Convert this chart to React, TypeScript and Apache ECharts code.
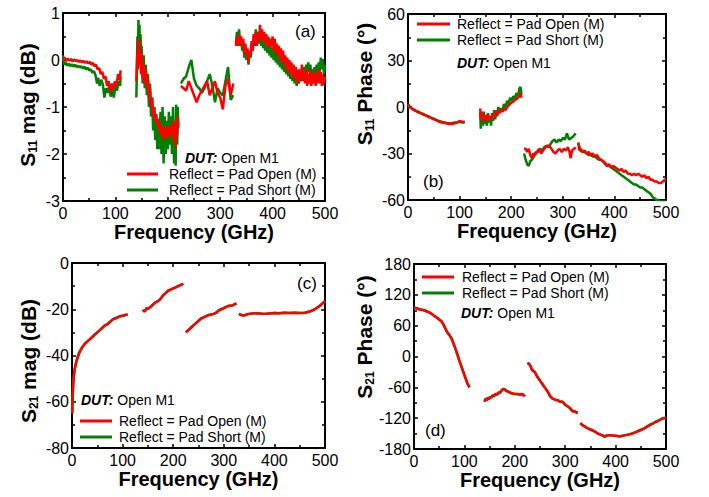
import React, { useEffect, useRef } from "react";
import * as echarts from "echarts";

type Pt = [number, number];

const OPEN_NAME = "Reflect = Pad Open (M)";
const SHORT_NAME = "Reflect = Pad Short (M)";
const RED = "#ff0000";
const GREEN = "#008000";
const FONT = "'Liberation Sans', Arial, sans-serif";

const xTicks = { min: 0, max: 500, interval: 100 };

// ---------- (a) S11 magnitude (dB) ----------
const s11MagOpen: Pt[][] = [
  [[0,0.02],[3,0.05],[6,-0.02],[9,0.03],[12,-0.01],[15,0.02],[18,-0.03],[21,0.01],[24,-0.02],[27,0.0],[30,-0.04],[33,-0.01],[36,-0.05],[39,-0.02],[42,-0.06],[45,-0.03],[48,-0.07],[51,-0.04],[54,-0.1],[57,-0.06],[60,-0.13],[63,-0.1],[66,-0.2],[69,-0.17],[72,-0.3],[75,-0.25],[78,-0.4],[81,-0.35],[84,-0.55],[87,-0.45],[90,-0.68],[93,-0.5],[96,-0.62],[99,-0.45],[102,-0.55],[105,-0.3],[108,-0.42],[110,-0.22]],
  [[140,-0.45],[141,-0.1],[142,0.2],[143,-0.2],[144,0.45],[145,0.1],[146,0.4],[147,-0.1],[148,0.2],[149,-0.3],[150,0.1],[152,-0.4],[154,-0.1],[156,-0.5],[158,-0.2],[160,-0.6],[162,-0.4],[164,-0.8],[166,-0.6],[168,-1.0],[170,-0.8],[172,-1.2],[174,-1.0],[176,-1.3],[178,-1.15],[180,-1.4],[182,-1.25],[184,-1.55],[186,-1.35],[188,-1.6],[190,-1.45],[192,-1.7],[194,-1.4],[196,-1.65],[198,-1.45],[200,-1.6],[202,-1.4],[204,-1.65],[206,-1.4],[208,-1.55],[210,-1.3],[212,-1.75],[214,-1.5],[215,-1.85],[216,-1.3],[218,-1.6],[219,-1.2],[220,-1.45]],
  [[225,-0.55],[230,-0.6],[235,-0.65],[240,-0.45],[245,-0.6],[250,-0.75],[255,-0.9],[260,-0.75],[265,-0.65],[270,-0.55],[275,-0.45],[280,-0.75],[285,-0.6],[290,-0.45],[295,-0.7],[300,-0.8],[305,-1.05],[310,-0.55],[315,-0.4],[320,-0.75],[325,-0.5]],
  [[330,0.3],[332,0.5],[334,0.3],[336,0.55],[338,0.35],[340,0.5],[342,0.3],[344,0.45],[346,0.15],[348,0.35],[350,0.1],[352,0.25],[354,-0.05],[356,0.2],[358,0.1],[360,0.4],[362,0.2],[364,0.55],[366,0.35],[368,0.6],[370,0.3],[372,0.55],[374,0.4],[376,0.75],[378,0.45],[380,0.65],[382,0.4],[384,0.6],[386,0.35],[388,0.55],[390,0.3],[392,0.5],[394,0.25],[396,0.45],[398,0.3],[400,0.5],[402,0.2],[404,0.45],[406,0.15],[408,0.35],[410,0.1],[412,0.3],[414,0.0],[416,0.25],[418,-0.05],[420,0.2],[422,-0.1],[424,0.1],[426,-0.2],[428,0.05],[430,-0.25],[432,0.0],[434,-0.3],[436,-0.05],[438,-0.35],[440,-0.1],[442,-0.4],[444,-0.15],[446,-0.45],[448,-0.2],[450,-0.5],[452,-0.2],[454,-0.4],[456,-0.1],[458,-0.45],[460,-0.25],[462,-0.5],[464,-0.2],[466,-0.55],[468,-0.3],[470,-0.5],[472,-0.2],[474,-0.55],[476,-0.3],[478,-0.5],[480,-0.25],[482,-0.55],[484,-0.3],[486,-0.5],[488,-0.2],[490,-0.5],[492,-0.25],[494,-0.55],[496,-0.3],[498,-0.5],[500,-0.35]],
];
const s11MagShort: Pt[][] = [
  [[0,0.1],[2,-0.1],[5,-0.05],[8,-0.12],[11,-0.08],[14,-0.13],[17,-0.09],[20,-0.14],[23,-0.1],[26,-0.15],[29,-0.12],[32,-0.16],[35,-0.13],[38,-0.18],[41,-0.14],[44,-0.2],[47,-0.16],[50,-0.22],[53,-0.2],[56,-0.27],[59,-0.24],[62,-0.32],[65,-0.5],[67,-0.38],[70,-0.55],[73,-0.42],[76,-0.52],[79,-0.8],[82,-0.6],[85,-0.7],[88,-0.55],[91,-0.78],[94,-0.6],[97,-0.8],[100,-0.55],[103,-0.65],[106,-0.45],[109,-0.55],[110,-0.35]],
  [[140,-0.8],[141,-0.2],[142,0.5],[143,0.1],[144,0.85],[145,0.3],[146,0.75],[147,0.0],[148,0.55],[149,-0.2],[150,0.3],[152,-0.5],[154,0.1],[156,-0.6],[158,-0.1],[160,-0.75],[162,-0.3],[164,-1.0],[166,-0.5],[168,-1.2],[170,-0.8],[172,-1.5],[174,-1.0],[176,-1.7],[178,-1.2],[180,-1.9],[182,-1.3],[184,-1.9],[186,-1.1],[188,-2.0],[190,-1.0],[192,-2.2],[194,-1.2],[196,-2.0],[198,-1.3],[200,-1.9],[202,-1.1],[204,-1.8],[206,-1.2],[208,-2.0],[210,-1.0],[212,-2.2],[214,-1.3],[215,-2.25],[216,-0.95],[218,-1.8],[219,-1.0],[220,-1.4]],
  [[225,-0.5],[230,-0.4],[235,-0.35],[240,-0.15],[245,0.0],[250,-0.4],[255,-0.55],[260,-0.6],[265,-0.7],[270,-0.6],[275,-0.45],[280,-0.3],[285,-0.55],[290,-0.9],[295,-0.6],[300,-0.7],[305,-0.75],[310,-0.45],[315,-0.15],[320,-0.85],[325,-0.75]],
  [[330,0.35],[332,0.6],[334,0.4],[336,0.65],[338,0.3],[340,0.45],[342,0.2],[344,0.35],[346,0.05],[348,0.25],[350,0.0],[352,0.2],[354,-0.1],[356,0.15],[358,0.05],[360,0.35],[362,0.2],[364,0.5],[366,0.3],[368,0.65],[370,0.4],[372,0.6],[374,0.35],[376,0.55],[378,0.3],[380,0.5],[382,0.25],[384,0.45],[386,0.2],[388,0.4],[390,0.15],[392,0.35],[394,0.1],[396,0.3],[398,0.05],[400,0.25],[402,0.0],[404,0.2],[406,-0.05],[408,0.15],[410,-0.1],[412,0.1],[414,-0.15],[416,0.05],[418,-0.2],[420,0.0],[422,-0.25],[424,-0.05],[426,-0.3],[428,-0.1],[430,-0.35],[432,-0.15],[434,-0.4],[436,-0.2],[438,-0.45],[440,-0.25],[442,-0.5],[444,-0.3],[446,-0.55],[448,-0.3],[450,-0.5],[452,-0.25],[454,-0.45],[456,-0.2],[458,-0.4],[460,-0.15],[462,-0.35],[464,-0.1],[466,-0.3],[468,-0.05],[470,-0.25],[472,-0.1],[474,-0.35],[476,-0.2],[478,-0.4],[480,-0.15],[482,-0.35],[484,-0.1],[486,-0.3],[488,-0.05],[490,-0.25],[492,0.05],[494,-0.2],[496,0.0],[498,-0.3],[500,-0.1]],
];

// ---------- (b) S11 phase (deg) ----------
const s11PhaseOpen: Pt[][] = [
  [[0,1],[5,-0.5],[10,-1.5],[15,-2.5],[20,-3.5],[25,-4],[30,-5],[35,-5.5],[40,-6.5],[45,-7],[50,-8],[55,-8.5],[60,-9.5],[65,-10],[70,-10],[75,-10.5],[80,-11],[85,-11],[90,-10.5],[95,-10],[100,-9],[105,-9.5],[110,-9.5]],
  [[140,-1],[141,-8],[143,-3],[145,-9],[147,-5],[149,-8],[151,-6],[153,-9],[155,-5],[157,-8],[159,-6],[161,-8],[163,-5],[165,-7],[167,-4],[169,-6],[171,-3],[173,-5],[175,-2],[177,-4],[180,-2],[183,-3],[186,-1],[189,-2],[192,0],[195,1],[198,2],[201,3],[204,3.5],[207,4.5],[210,5],[213,6],[216,7],[218,9],[220,6]],
  [[225,-27],[228,-27],[231,-29],[234,-27],[237,-31],[240,-33],[243,-30],[246,-31],[250,-29],[254,-27],[258,-30],[262,-28],[266,-26],[270,-25],[274,-25],[278,-27],[282,-29],[286,-30],[290,-28],[294,-27],[298,-29],[302,-27],[306,-28],[310,-26],[313,-29],[315,-33],[318,-28],[322,-27],[325,-26]],
  [[330,-23],[332,-28],[335,-27],[338,-29],[342,-28],[346,-30],[350,-29],[354,-31],[358,-30],[362,-32],[366,-31],[370,-33],[374,-34],[378,-35],[382,-36],[386,-38],[390,-37],[394,-39],[398,-38],[402,-39],[406,-40],[410,-41],[414,-40],[418,-42],[422,-41],[426,-43],[430,-43],[434,-44],[438,-43],[442,-44],[446,-43],[450,-44],[454,-45],[458,-44],[462,-46],[466,-45],[470,-47],[474,-47],[478,-48],[482,-48],[486,-49],[490,-49],[494,-48],[498,-47],[500,-47]],
];
const s11PhaseShort: Pt[][] = [
  [[0,2],[5,-0.5],[10,-1.5],[15,-2.5],[20,-3],[25,-4],[30,-4.5],[35,-5.5],[40,-6],[45,-7],[50,-7.5],[55,-8.5],[60,-9],[65,-9.5],[70,-10],[75,-10.5],[80,-10.5],[85,-10.5],[90,-10],[95,-10],[100,-9.5],[105,-10],[110,-10]],
  [[140,-3],[141,-14],[143,-4],[145,-12],[147,-3],[149,-11],[151,-5],[153,-12],[155,-4],[157,-10],[159,-6],[161,-12],[163,-4],[165,-9],[167,-2],[169,-8],[171,-2],[173,-6],[175,0],[177,-3],[180,-1],[183,-3],[186,2],[189,-1],[192,4],[195,2],[198,6],[201,4],[204,7],[207,5],[210,9],[213,7],[216,12],[218,13],[220,8]],
  [[225,-30],[228,-34],[231,-37],[234,-38],[237,-35],[240,-34],[244,-32],[248,-29],[252,-29],[256,-27],[260,-28],[264,-26],[268,-25],[272,-26],[276,-24],[280,-22],[284,-21],[288,-23],[292,-21],[296,-22],[300,-20],[304,-21],[308,-17],[312,-21],[316,-20],[320,-19],[325,-17]],
  [[330,-23],[334,-28],[338,-29],[342,-29],[346,-30],[350,-31],[354,-31],[358,-32],[362,-32],[366,-33],[370,-34],[374,-34],[378,-35],[382,-37],[386,-38],[390,-38],[394,-39],[398,-40],[402,-41],[406,-42],[410,-43],[414,-44],[418,-45],[422,-46],[426,-47],[430,-48],[434,-49],[438,-50],[442,-50],[446,-51],[450,-52],[454,-52],[458,-53],[462,-54],[466,-55],[470,-56],[474,-58],[478,-59],[482,-60],[486,-60.5],[490,-61],[495,-61],[500,-61]],
];

// ---------- (c) S21 magnitude (dB) ----------
const s21MagOpen: Pt[][] = [
  [[0.5,-65],[1,-60],[2,-54],[3,-50],[5,-46.5],[7,-44],[10,-41.5],[15,-38.5],[20,-36.5],[25,-35],[30,-34],[35,-33],[40,-32],[45,-31],[50,-30],[55,-29],[60,-28],[65,-27],[70,-26.5],[75,-25.5],[80,-24.5],[85,-24],[90,-23.5],[95,-23],[100,-22.8],[105,-22.5],[110,-22.3]],
  [[140,-21],[142,-20.5],[144,-21],[146,-20],[148,-19.5],[150,-19.8],[155,-19],[160,-18],[165,-17],[170,-16.5],[175,-15.5],[180,-14],[185,-13],[190,-12],[195,-11.5],[200,-11],[205,-10.5],[210,-10],[215,-9.5],[220,-9]],
  [[225,-30],[230,-29],[235,-28],[240,-27],[245,-26],[250,-25],[255,-24],[260,-23.5],[265,-23],[270,-22.5],[275,-22.3],[280,-22],[285,-21.5],[290,-20.5],[295,-20],[300,-19.5],[305,-19],[310,-18.5],[315,-18.5],[320,-18],[325,-17.5]],
  [[330,-22],[335,-22.5],[340,-22.7],[345,-22.3],[350,-22],[360,-21.7],[370,-21.8],[380,-22],[390,-21.8],[400,-21.6],[410,-21.7],[420,-21.5],[430,-21.6],[440,-21.5],[450,-21.6],[460,-21.5],[470,-21],[480,-20],[490,-18.5],[500,-16.5]],
];
const s21MagShort: Pt[][] = s21MagOpen;

// ---------- (d) S21 phase (deg) ----------
const s21PhaseOpen: Pt[][] = [
  [[0,95],[5,94],[10,92],[15,91],[20,90],[25,88],[30,86],[35,83],[40,79],[45,76],[50,72],[55,68],[58,63],[62,55],[66,47],[70,42],[75,34],[80,21],[85,7],[90,-8],[95,-22],[100,-36],[105,-50],[110,-60]],
  [[140,-88],[142,-82],[144,-86],[146,-80],[148,-84],[150,-79],[153,-80],[156,-76],[159,-77],[162,-73],[165,-74],[168,-70],[171,-70],[174,-66],[177,-63],[180,-64],[183,-67],[186,-68],[190,-70],[195,-72],[200,-73],[205,-73],[210,-74],[215,-73],[218,-76],[220,-74]],
  [[225,-13],[228,-14],[231,-18],[234,-26],[237,-28],[240,-31],[245,-40],[250,-47],[255,-54],[260,-61],[265,-68],[270,-77],[275,-82],[280,-84],[285,-85],[290,-88],[295,-88],[300,-94],[305,-97],[310,-101],[315,-107],[318,-106],[322,-109],[325,-109]],
  [[330,-130],[335,-134],[340,-137],[345,-140],[350,-142],[355,-144],[360,-147],[365,-150],[370,-152],[375,-154],[378,-156],[382,-154],[386,-153],[390,-153],[395,-154],[400,-154],[405,-155],[410,-155],[415,-154],[420,-153],[425,-152],[430,-151],[435,-149],[440,-147],[445,-145],[450,-143],[455,-141],[460,-138],[465,-135],[470,-132],[475,-130],[480,-127],[485,-125],[490,-122],[495,-120],[500,-119]],
];
const s21PhaseShort: Pt[][] = s21PhaseOpen;

// y-axis ranges per panel
const yRanges = [
  { min: -3, max: 1, interval: 1 },
  { min: -60, max: 60, interval: 30 },
  { min: -80, max: 0, interval: 20 },
  { min: -180, max: 180, interval: 60 },
];
const yNames = [
  "{s|S}{sub|11}{s| mag (dB)}",
  "{s|S}{sub|11}{s| Phase (°)}",
  "{s|S}{sub|21}{s| mag (dB)}",
  "{s|S}{sub|21}{s| Phase (°)}",
];
const panelLabels = ["(a)", "(b)", "(c)", "(d)"];

function joinSegments(segs: Pt[][]): any[] {
  const out: any[] = [];
  segs.forEach((s, i) => {
    if (i > 0) out.push([s[0][0] - 1, "-"]);
    s.forEach((p) => out.push(p));
  });
  return out;
}

export default function App() {
  const ref = useRef<HTMLDivElement>(null);
  useEffect(() => {
    if (!ref.current) return;
    const chart = echarts.init(ref.current, null, { renderer: "svg" });

    const grids = [
      { left: 63, top: 13, width: 262, height: 188 },
      { left: 408, top: 14, width: 258, height: 186 },
      { left: 72, top: 263, width: 253, height: 185 },
      { left: 414, top: 264, width: 252, height: 185 },
    ];

    const axisLine = { show: true, onZero: false, lineStyle: { color: "#000", width: 2 } };
    const axisTick = { show: true, inside: true, length: 4, lineStyle: { color: "#000", width: 1.5 } };
    const minorTick = { show: true, splitNumber: 2, length: 3, lineStyle: { color: "#000", width: 1.5 } };

    const xAxis: any[] = [];
    const yAxis: any[] = [];
    grids.forEach((_, g) => {
      xAxis.push({
        gridIndex: g, type: "value", ...xTicks, position: "bottom",
        axisLine, axisTick, minorTick, splitLine: { show: false },
        axisLabel: { fontSize: 16, color: "#000", margin: 4, fontFamily: FONT },
        name: "Frequency (GHz)", nameLocation: "middle", nameGap: 21,
        nameTextStyle: { fontSize: 20, fontWeight: "bold", color: "#000", fontFamily: FONT },
      });
      xAxis.push({
        gridIndex: g, type: "value", ...xTicks, position: "top",
        axisLine, axisTick, minorTick, splitLine: { show: false },
        axisLabel: { show: false },
      });
      yAxis.push({
        gridIndex: g, type: "value", ...yRanges[g], position: "left",
        axisLine, axisTick, minorTick, splitLine: { show: false },
        axisLabel: { fontSize: 16, color: "#000", margin: 3, fontFamily: FONT },
      });
      yAxis.push({
        gridIndex: g, type: "value", ...yRanges[g], position: "right",
        axisLine, axisTick, minorTick, splitLine: { show: false },
        axisLabel: { show: false },
      });
    });

    const panels = [
      [s11MagShort, s11MagOpen],
      [s11PhaseShort, s11PhaseOpen],
      [s21MagShort, s21MagOpen],
      [s21PhaseShort, s21PhaseOpen],
    ];
    const series: any[] = [];
    panels.forEach(([short, open], g) => {
      series.push({
        type: "line", name: SHORT_NAME, xAxisIndex: 2 * g, yAxisIndex: 2 * g,
        data: joinSegments(short), showSymbol: false, symbol: "none",
        lineStyle: { color: GREEN, width: 2.5 }, itemStyle: { color: GREEN },
        connectNulls: false,
      });
      series.push({
        type: "line", name: OPEN_NAME, xAxisIndex: 2 * g, yAxisIndex: 2 * g,
        data: joinSegments(open), showSymbol: false, symbol: "none",
        lineStyle: { color: RED, width: 2.5 }, itemStyle: { color: RED },
        connectNulls: false,
      });
    });

    const legendPos = [
      { left: 127, top: 167, w: 31, pad: 6 },
      { left: 417, top: 17, w: 33, pad: 2 },
      { left: 80, top: 414, w: 32, pad: 2 },
      { left: 422, top: 270, w: 32, pad: 3 },
    ];
    const legend = legendPos.map((p) => ({
      data: [OPEN_NAME, SHORT_NAME], orient: "vertical", left: p.left, top: p.top,
      itemWidth: p.w, itemHeight: 3, itemGap: 2, icon: "rect", padding: 0,
      selectedMode: false,
      textStyle: { fontSize: 14, color: "#000", fontFamily: FONT, padding: [0, 0, 0, p.pad] },
    }));

    const dutPos = [[185, 158], [457, 63], [81, 400], [461, 313]];
    const labelPos = [[295, 31], [423, 181], [297, 283], [425, 430]];
    const yNamePos = [[27, 105], [364, 84], [28, 361], [364, 337]];
    const graphic: any[] = [];
    yNamePos.forEach(([x, y], i) => {
      graphic.push({
        type: "text", x, y, rotation: Math.PI / 2,
        style: {
          text: yNames[i], fill: "#000", fontFamily: FONT,
          align: "center", verticalAlign: "middle",
          rich: {
            s: { fontSize: 21, fontWeight: "bold", fill: "#000", fontFamily: FONT, lineHeight: 24 },
            sub: { fontSize: 12, fontWeight: "bold", fill: "#000", fontFamily: FONT, lineHeight: 4, verticalAlign: "bottom" },
          },
        },
      });
    });
    dutPos.forEach(([x, y]) => {
      graphic.push({
        type: "text", x, y,
        style: {
          text: "{b|DUT:} Open M1", fontSize: 14, fontFamily: FONT, fill: "#000",
          verticalAlign: "middle",
          rich: { b: { fontWeight: "bold", fontStyle: "italic", fontSize: 14, fontFamily: FONT } },
        },
      });
    });
    labelPos.forEach(([x, y], i) => {
      graphic.push({
        type: "text", x, y,
        style: { text: panelLabels[i], fontSize: 17, fontFamily: FONT, fill: "#000", verticalAlign: "middle" },
      });
    });

    chart.setOption({
      animation: false,
      backgroundColor: "#fff",
      grid: grids,
      xAxis, yAxis, series, legend, graphic,
    });
    return () => chart.dispose();
  }, []);

  return (
    <div
      ref={ref}
      style={{ position: "absolute", left: 0, top: 0, width: 709, height: 497 }}
    />
  );
}
